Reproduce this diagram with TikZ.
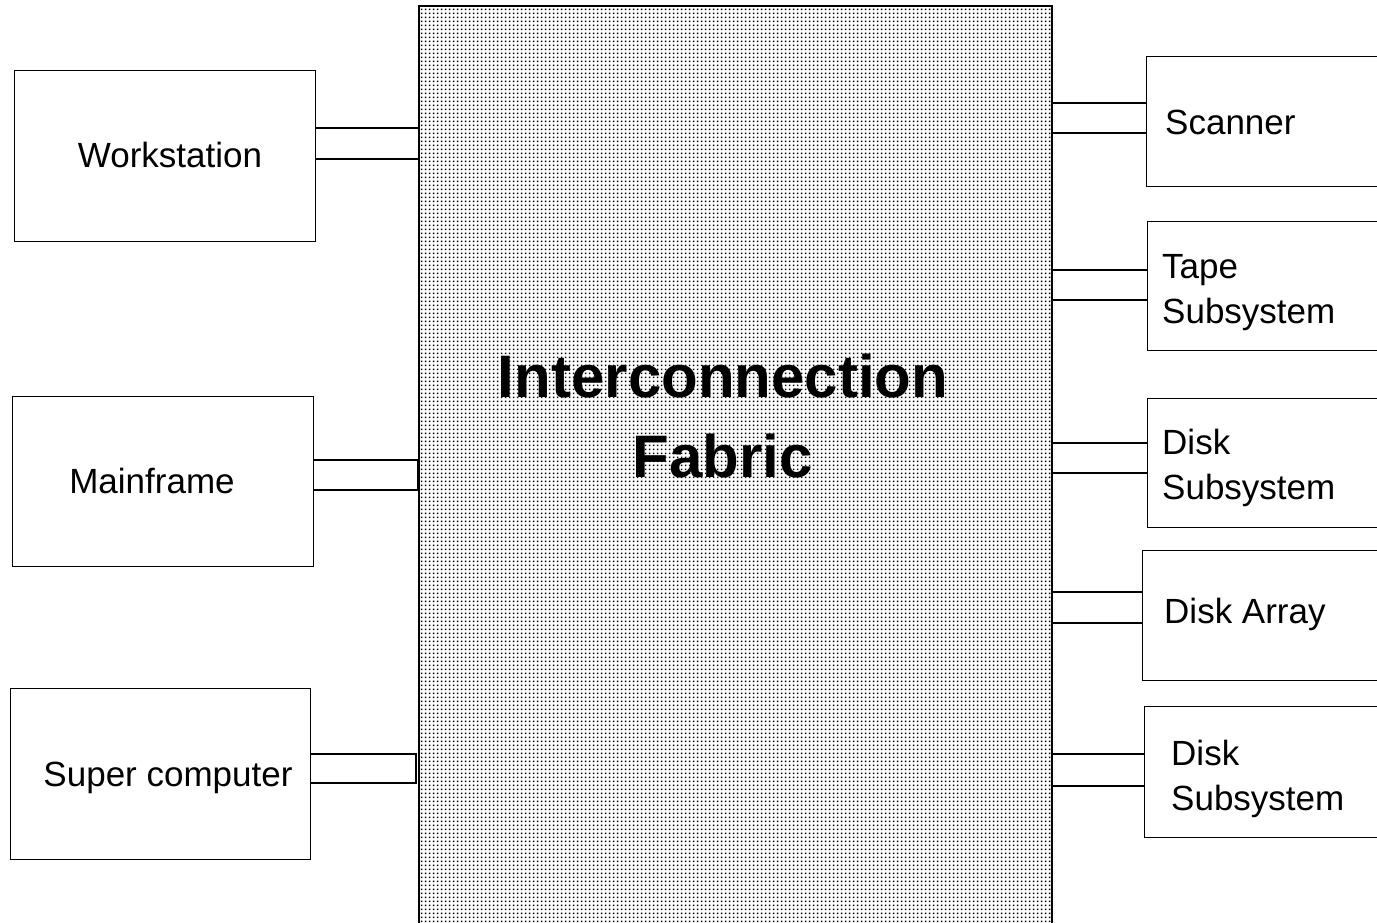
\documentclass[tikz,border=0pt]{standalone}
\usepackage{fontspec}
\setmainfont{Liberation Sans}
\usetikzlibrary{patterns}
\pgfdeclarepatternformonly{fabricdots}{\pgfqpoint{0pt}{0pt}}{\pgfqpoint{4pt}{4pt}}{\pgfqpoint{4pt}{4pt}}{%
  \pgfpathrectangle{\pgfqpoint{1.1pt}{1.1pt}}{\pgfqpoint{1.8pt}{1.8pt}}\pgfusepath{fill}}
\tikzset{
  box/.style={draw=black, line width=1.3pt, rectangle, inner sep=0pt, anchor=north west},
  fabric/.style={draw=black, line width=1.5pt, rectangle, inner sep=0pt, anchor=north west,
    pattern=fabricdots, pattern color=black},
  lbl/.style={font=\fontsize{35}{45}\selectfont, inner sep=0pt, align=left},
  title/.style={font=\fontsize{60}{80}\selectfont\bfseries, inner sep=0pt, align=center},
  link/.style={draw=black, line width=1.3pt}
}
\begin{document}
\begin{tikzpicture}[x=1pt,y=-1pt]
\useasboundingbox (0,0) rectangle (1377,922);
\clip (0,0) rectangle (1377,922);
\fill[white] (0,0) rectangle (1377,922);
% fabric
\node[fabric, minimum width=633, minimum height=940] (fab) at (418,5) {};
\node[title, anchor=base] (ftitle) at (723,477) {Interconnection\\Fabric};
% left boxes
\node[box, minimum width=301, minimum height=171] (ws) at (14,70) {};
\node[lbl, anchor=base] (wsl) at (170,167) {Workstation};
\node[box, minimum width=301, minimum height=170] (mf) at (12,396) {};
\node[lbl, anchor=base] (mfl) at (152,493) {Mainframe};
\node[box, minimum width=300, minimum height=171] (sc) at (10,688) {};
\node[lbl, anchor=base] (scl) at (168,786) {Super computer};
% right boxes
\node[box, minimum width=300, minimum height=130] (scan) at (1146,56) {};
\node[lbl, anchor=base west] (scanl) at (1165,134) {Scanner};
\node[box, minimum width=300, minimum height=129] (tape) at (1147,221) {};
\node[lbl, anchor=base west] (tapel) at (1162,323) {Tape\\Subsystem};
\node[box, minimum width=300, minimum height=129] (disk1) at (1147,398) {};
\node[lbl, anchor=base west] (disk1l) at (1162,499) {Disk\\Subsystem};
\node[box, minimum width=300, minimum height=130] (arr) at (1142,550) {};
\node[lbl, anchor=base west] (arrl) at (1164,623) {Disk Array};
\node[box, minimum width=300, minimum height=131] (disk2) at (1144,706) {};
\node[lbl, anchor=base west] (disk2l) at (1171,810) {Disk\\Subsystem};
% left connectors
\draw[link] (ws.east |- 0,128) -- (fab.west |- 0,128);
\draw[link] (ws.east |- 0,159) -- (fab.west |- 0,159);
\draw[link] (mf.east |- 0,460) -- (fab.west |- 0,460) -- (fab.west |- 0,490) -- (mf.east |- 0,490);
\draw[link] (sc.east |- 0,754) -- ([xshift=-2pt]fab.west |- 0,754) -- ([xshift=-2pt]fab.west |- 0,783) -- (sc.east |- 0,783);
% right connectors
\draw[link] (fab.east |- 0,103) -- (scan.west |- 0,103);
\draw[link] (fab.east |- 0,133) -- (scan.west |- 0,133);
\draw[link] (fab.east |- 0,270) -- (tape.west |- 0,270);
\draw[link] (fab.east |- 0,300) -- (tape.west |- 0,300);
\draw[link] (fab.east |- 0,443) -- (disk1.west |- 0,443);
\draw[link] (fab.east |- 0,473) -- (disk1.west |- 0,473);
\draw[link] (fab.east |- 0,592) -- (arr.west |- 0,592);
\draw[link] (fab.east |- 0,623) -- (arr.west |- 0,623);
\draw[link] (fab.east |- 0,754) -- (disk2.west |- 0,754);
\draw[link] (fab.east |- 0,786) -- (disk2.west |- 0,786);
\end{tikzpicture}
\end{document}
